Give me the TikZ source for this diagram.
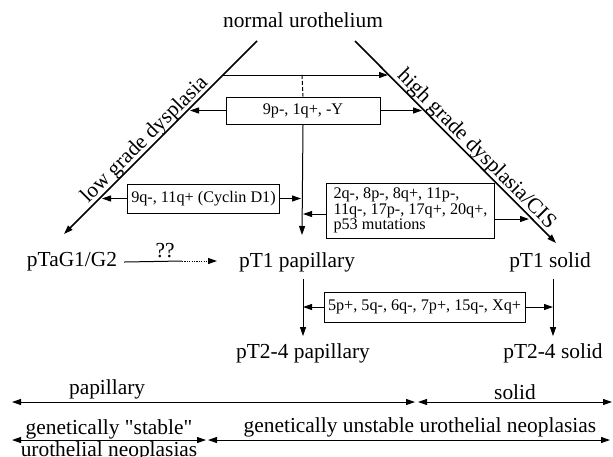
\documentclass[tikz,border=0pt]{standalone}
\usepackage{fontspec}
\setmainfont{Liberation Serif}[Ligatures=TeXOff]
\usetikzlibrary{arrows.meta}
\tikzset{
  tip/.style={-{Triangle[length=4.5pt,width=3pt]}},
  both/.style={{Triangle[length=4.5pt,width=3pt]}-{Triangle[length=4.5pt,width=3pt]}},
  stage/.style={font=\fontsize{10.7}{12}\selectfont},
  gene/.style={draw,font=\fontsize{8.1}{7.8}\selectfont,inner xsep=2pt,inner ysep=1pt},
  diag/.style={line width=0.8pt},
  lab/.style={above,inner sep=1pt}
}
\begin{document}
\begin{tikzpicture}[x=0.5pt,y=-0.5pt,line width=0.5pt,stage]
        \useasboundingbox (0,0) rectangle (613,456);
        \node (norm) at (303,20) {normal urothelium};
        \node (pta) at (72,262) {pTaG1/G2};
        \node (pt1p) at (297,262) {pT1 papillary};
        \node (pt1s) at (550,262) {pT1 solid};
        \node (pt24p) at (303,353) {pT2-4 papillary};
        \node (pt24s) at (553,353) {pT2-4 solid};
        \node[gene,minimum width=77pt,minimum height=13.5pt] (ybox) at (303,110.5) {9p-, 1q+, -Y};
        \node[gene,minimum width=75.5pt,minimum height=14.5pt] (cbox) at (203.5,198.5) {9q-, 11q+ (Cyclin D1)};
        \node[gene,align=left,inner xsep=3.5pt,minimum width=82.5pt,minimum height=27.5pt] (pbox) at (410.5,210.5) {2q-, 8p-, 8q+, 11p-,\\11q-, 17p-, 17q+, 20q+,\\p53 mutations};
        \node[gene,minimum width=100.5pt,minimum height=15pt] (gbox) at (424.5,307) {5p+, 5q-, 6q-, 7p+, 15q-, Xq+};
        % the two dysplasia routes
        \coordinate (lgTop) at (257,41);
        \coordinate (lgEnd) at (64,234);
        \coordinate (hgTop) at (355,41);
        \coordinate (hgEnd) at (556,243);
        \draw[diag,tip] (lgTop) -- node[sloped,above=-0.6pt,inner sep=0pt,pos=0.547] (lglab) {low grade dysplasia} (lgEnd);
        \draw[diag,tip] (hgTop) -- node[sloped,above=-0.6pt,inner sep=0pt,pos=0.57] (hglab) {high grade dysplasia/CIS} (hgEnd);
        \coordinate (hl) at (223,75);
        \coordinate (hr) at (388,75);
        \coordinate (split) at (302,75);
        \coordinate (join) at (302,235);
        \draw[tip] (hl) -- (hr);
        \draw[dash pattern=on 2pt off 1pt] (split) -- (ybox.north);
        \draw[tip] (ybox.south) -- (join);
        \coordinate (ylft) at (190,110.5);
        \coordinate (yrgt) at (422,110.5);
        \draw[tip] (ybox.west) -- (ylft);
        \draw[tip] (ybox.east) -- (yrgt);
        \coordinate (clft) at (102,198.5);
        \draw[tip] (cbox.west) -- (clft);
        \draw[tip,shorten >=0.5pt] (cbox.east) -- (cbox.east -| join);
        \coordinate (pin) at (303,214);
        \coordinate (pout) at (529,219);
        \draw[tip] ([yshift=-1.75pt]pbox.west) -- (pin);
        \draw[tip] ([yshift=-4.25pt]pbox.east) -- (pout);
        % pTa -> pT1
        \coordinate (qq) at (182,261);
        \coordinate (qend) at (217,261);
        \draw (pta.east) -- node[above,inner sep=1.5pt,pos=0.707] (qlab) {??} (qq);
        \draw[tip,dash pattern=on 0.6pt off 0.6pt] (qq) -- (qend);
        % invasion
        \draw[tip] (pt1p.south -| pt24p.north) -- (pt24p.north);
        \draw[tip] (pt1s.south -| pt24s.north) -- (pt24s.north);
        \draw[tip] (gbox.west) -- (gbox.west -| pt24p.north);
        \draw[tip] (gbox.east) -- (gbox.east -| pt24s.north);
        % bottom scales
        \coordinate (papL) at (12,402);
        \coordinate (papR) at (415,402);
        \coordinate (solL) at (418,402);
        \coordinate (solR) at (612,402);
        \draw[both] (papL) -- node[lab,pos=0.236] (paplab) {papillary} (papR);
        \draw[both] (solL) -- node[lab] (sollab) {solid} (solR);
        \coordinate (stL) at (12,440);
        \coordinate (stR) at (206,440);
        \coordinate (unL) at (208,440);
        \coordinate (unR) at (610,440);
        \draw[both] (stL) -- node[align=center,inner sep=0pt,font=\fontsize{10.7}{11}\selectfont] (stlab) {genetically "stable"\\urothelial neoplasias} (stR);
        \draw[both] (unL) -- node[lab,pos=0.527] (unlab) {genetically unstable urothelial neoplasias} (unR);
    \end{tikzpicture}
\end{document}
